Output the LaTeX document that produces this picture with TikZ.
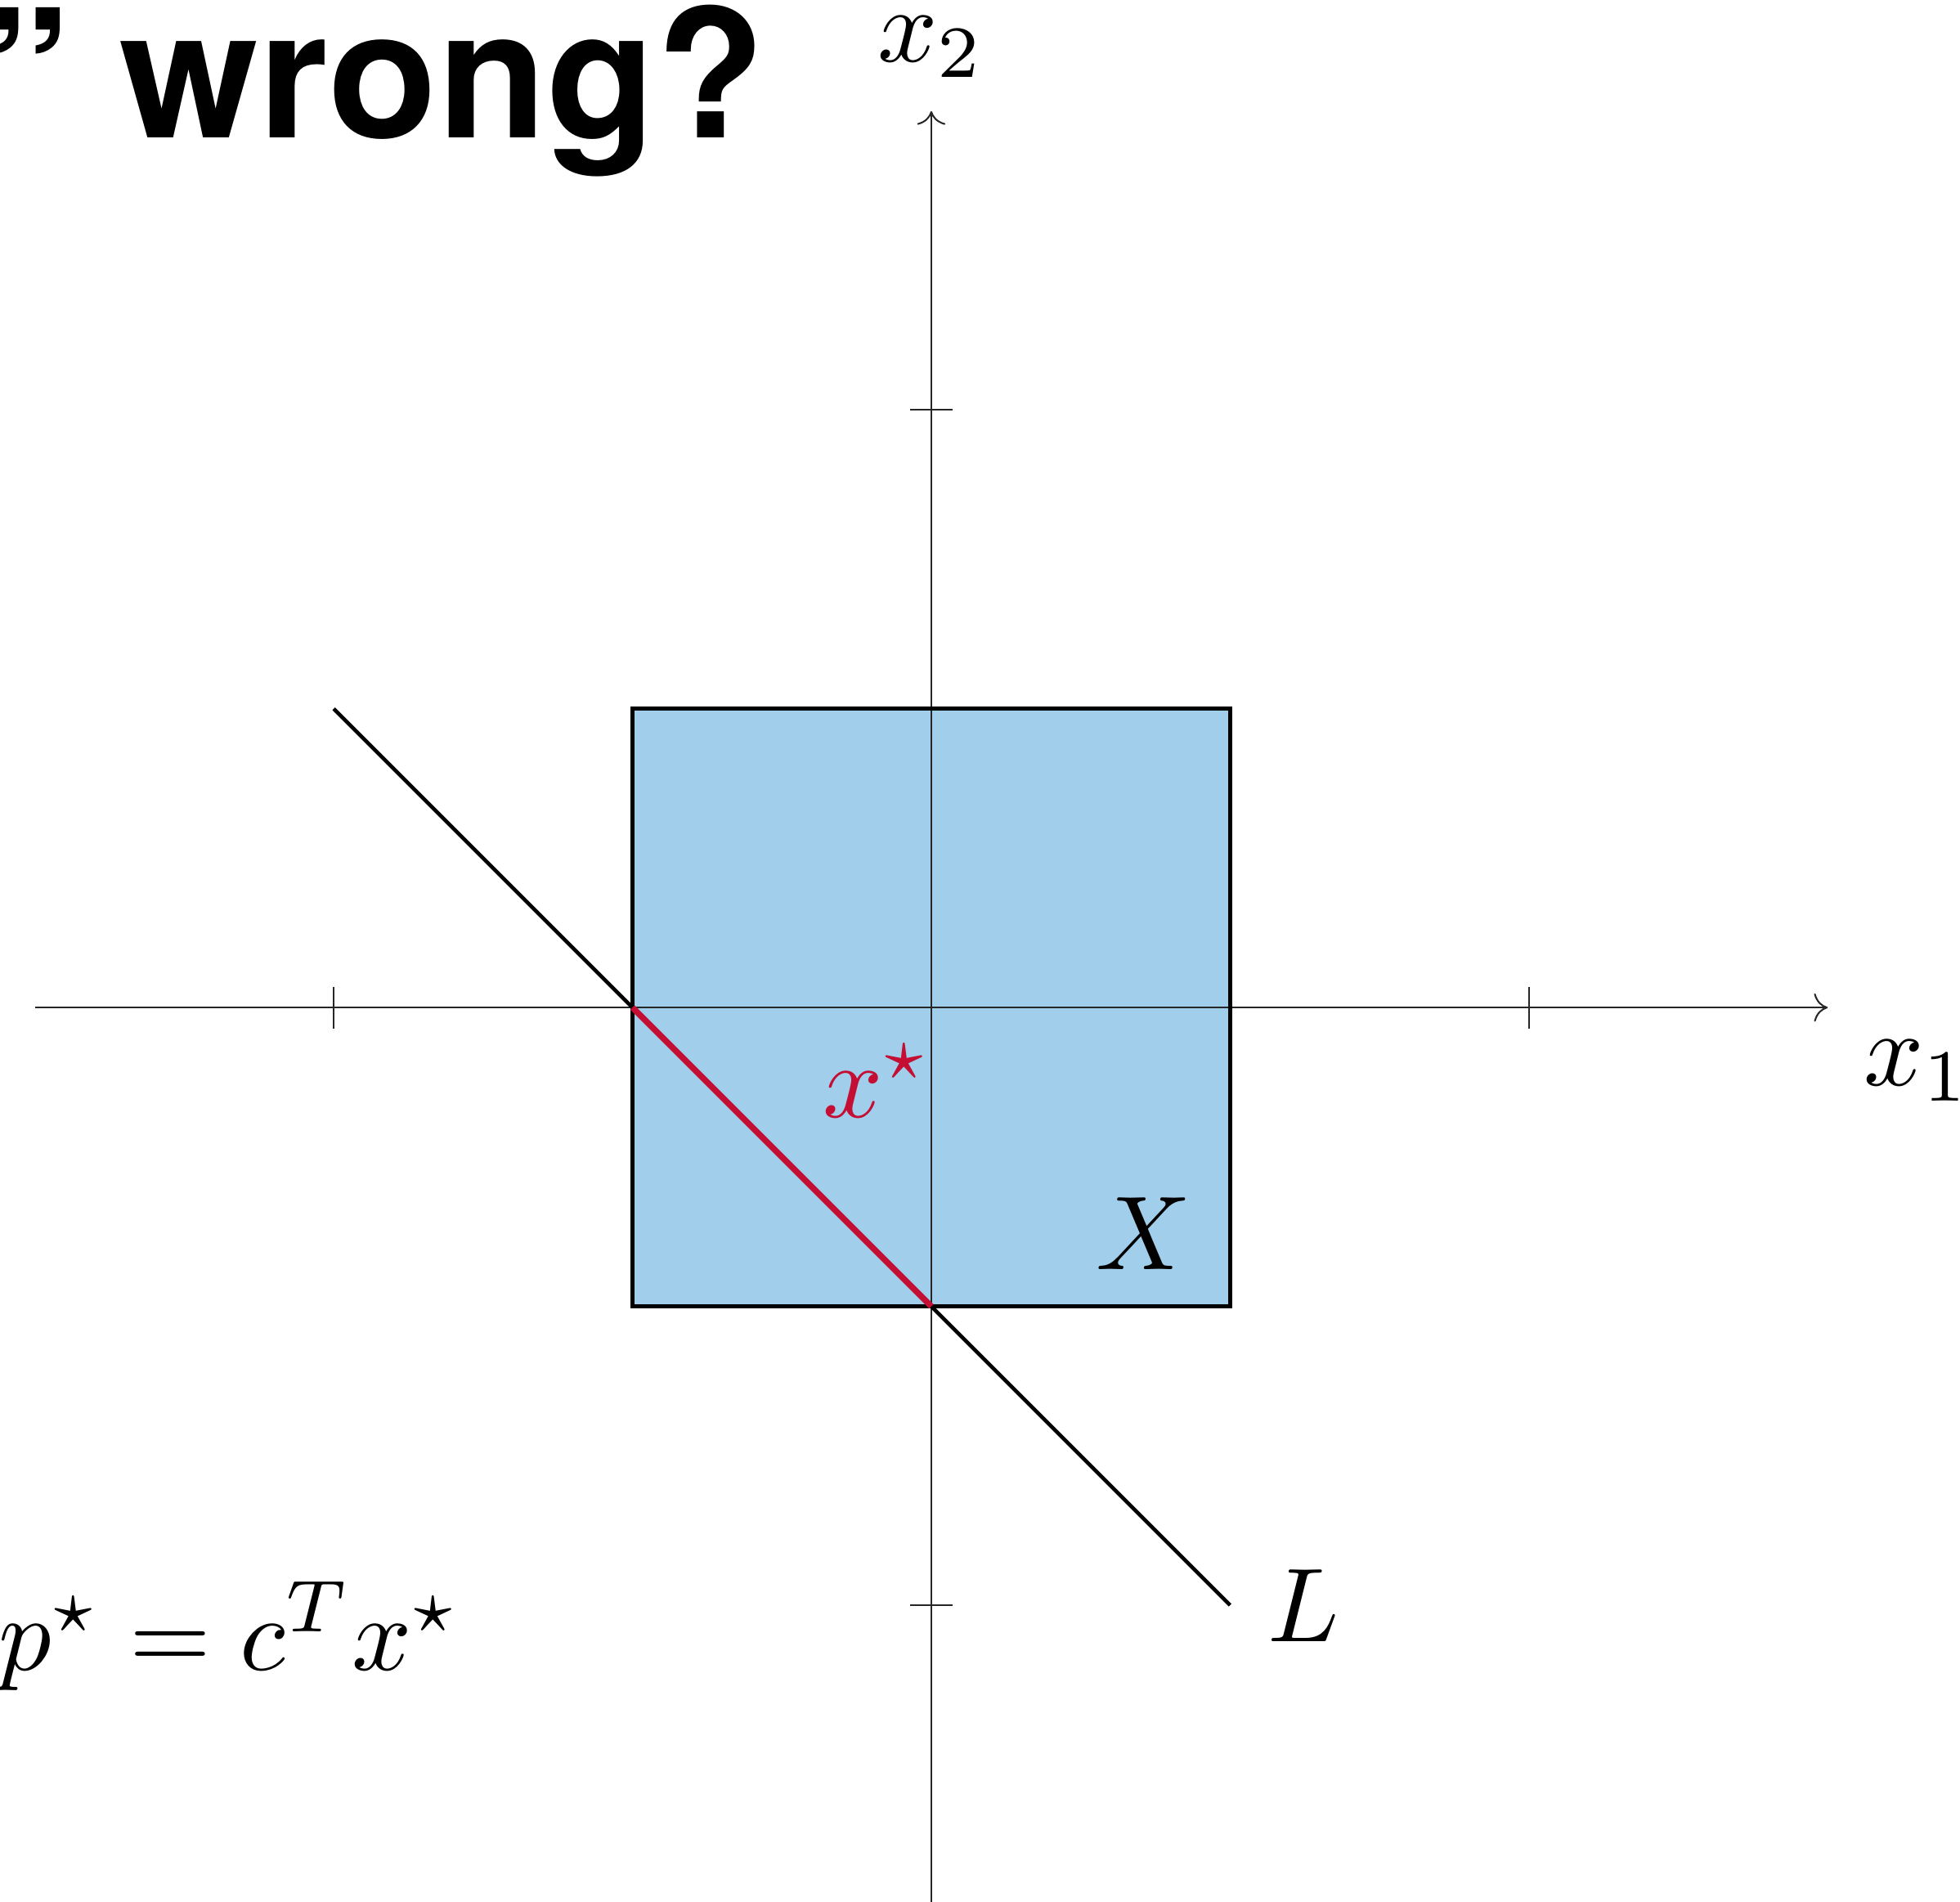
\documentclass[tikz,border=0pt]{standalone}
\usepackage{fontspec}
\newfontfamily\titlefont{TeX Gyre Heros}
\usetikzlibrary{arrows.meta}
\definecolor{setblue}{RGB}{160,206,235}
\definecolor{optred}{RGB}{196,14,52}
\tikzset{
  axis/.style={line width=0.16pt, draw=black!85},
  axisarrow/.style={axis, -{To[length=1.3pt,width=2.7pt]}},
  tickmark/.style={line width=0.16pt, draw=black!85},
  boxline/.style={line width=0.37pt, draw=black},
  lline/.style={line width=0.35pt, draw=black},
  redline/.style={line width=0.58pt, draw=optred},
  lbl/.style={inner sep=0pt, font=\fontsize{10}{12}\selectfont}
}
\begin{document}
\begin{tikzpicture}
\useasboundingbox (-3.117,-2.991) rectangle (3.443,3.372);
% coordinates
\coordinate (O) at (0,0);
\coordinate (xl) at (-3,0);
\coordinate (xr) at (3,0);
\coordinate (yb) at (0,-3);
\coordinate (yt) at (0,3);
\coordinate (sq1) at (-1,-1);
\coordinate (sq2) at (1,1);
\coordinate (La) at (-2,1);
\coordinate (Lb) at (1,-2);
\coordinate (xs) at (-1,0);
\coordinate (xe) at (0,-1);
% feasible set fill
\fill[setblue] (sq1) rectangle (sq2);
% axes
\draw[axisarrow] (xl) -- (xr);
\draw[axisarrow] (yb) -- (yt);
% ticks
\foreach \t in {-2,2} {
  \draw[tickmark] (\t,-0.07) -- (\t,0.07);
  \draw[tickmark] (-0.07,\t) -- (0.07,\t);
}
% square border
\draw[boxline] (sq1) rectangle (sq2);
% line L
\draw[lline] (La) -- (Lb);
% optimal segment
\draw[redline] (xs) -- (xe);
% labels
\node[lbl, anchor=base] (x2lab) at (0,3.166) {$x_2$};
\node[lbl, anchor=base] (x1lab) at (3.30,-0.26) {$x_1$};
\node[lbl, anchor=base, text=optred] (xstar) at (-0.182,-0.367) {$x^\star$};
\node[lbl, anchor=base] (Xlab) at (0.711,-0.876) {$X$};
\node[lbl, anchor=base] (Llab) at (1.245,-2.121) {$L$};
\node[inner sep=0pt, font=\fontsize{10.4}{12}\selectfont, anchor=base east] (pstar) at (-1.57,-2.217) {$p^\star = c^T x^\star$};
\node[anchor=base east, inner sep=0pt, font=\titlefont\bfseries\fontsize{17}{20}\selectfont] (title) at (-0.55,2.912) {” wrong?};
\end{tikzpicture}
\end{document}
